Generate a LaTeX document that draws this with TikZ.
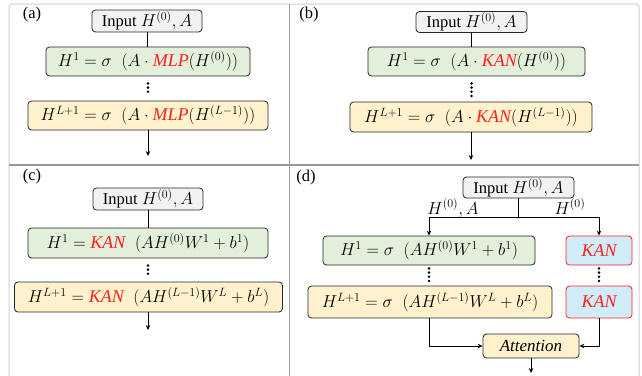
\documentclass[tikz,border=0pt]{standalone}
\usepackage{fontspec}
\setmainfont{Liberation Serif}
\usetikzlibrary{arrows.meta}
\definecolor{gfill}{HTML}{E2EFDA}
\definecolor{yfill}{HTML}{FFF2CC}
\definecolor{ifill}{HTML}{F2F2F2}
\definecolor{bfill}{HTML}{CFEDF8}
\definecolor{kred}{HTML}{FF2020}
\definecolor{frame}{HTML}{D0D0D0}
\definecolor{divider}{HTML}{999999}
\newcommand{\rk}[1]{\textcolor{kred}{\mathit{#1}}}
\begin{document}
\begin{tikzpicture}[x=1pt,y=-1pt,
  box/.style={draw=black!85,line width=0.8pt,rounded corners=3.5pt,inner sep=0pt,font=\fontsize{18}{21}\selectfont},
  inbox/.style={box,fill=ifill,font=\fontsize{16.5}{19}\selectfont},
  gbox/.style={box,fill=gfill},
  ybox/.style={box,fill=yfill},
  kbox/.style={box,fill=bfill,draw=kred},
  conn/.style={line width=0.8pt,black},
  arr/.style={conn,-{Stealth[length=5pt,width=4.5pt]}},
  dotsty/.style={line width=2.8pt,line cap=round,dash pattern=on 0pt off 4.2pt,shorten <=7pt,shorten >=5pt},
  dotshort/.style={dotsty,shorten <=3pt,shorten >=3pt},
  plab/.style={font=\fontsize{16.5}{19}\selectfont,inner sep=0pt},
  elab/.style={font=\fontsize{17}{20}\selectfont,inner sep=0pt,anchor=base}
]
\useasboundingbox (0,0) rectangle (642,375);
% frame
\draw[frame,line width=1pt,rounded corners=3pt] (9,380) -- (9,4) -- (639,4) -- (639,380);
\draw[divider,line width=1.2pt] (9,165) -- (639,165);
\draw[divider,line width=1.2pt] (289.5,4) -- (289.5,380);

% panel (a)
\node[plab] (la) at (32,15) {(a)};
\node[inbox,minimum width=110,minimum height=22] (inA) at (147,21) {Input $H^{(0)},A$};
\node[gbox,minimum width=204,minimum height=29] (gA) at (148,61.5) {$H^{1}=\sigma\;\;(A\cdot\rk{MLP}(H^{(0)}))$};
\node[ybox,minimum width=240,minimum height=29] (yA) at (148,115.5) {$H^{L+1}=\sigma\;\;(A\cdot\rk{MLP}(H^{(L-1)}))$};
\coordinate (oA) at (148,156);
\draw[conn] (inA.south) -- (inA.south |- gA.north);
\draw[dotsty] (gA.south) -- (yA.north);
\draw[arr] (yA.south) -- (oA);

% panel (b)
\node[plab] (lb) at (309,15) {(b)};
\node[inbox,minimum width=111,minimum height=21] (inB) at (471.5,22) {Input $H^{(0)},A$};
\node[gbox,minimum width=217,minimum height=29] (gB) at (476.5,61.5) {$H^{1}=\sigma\;\;(A\cdot\rk{KAN}(H^{(0)}))$};
\node[ybox,minimum width=242,minimum height=30] (yB) at (471,117) {$H^{L+1}=\sigma\;\;(A\cdot\rk{KAN}(H^{(L-1)}))$};
\coordinate (oB) at (471,160);
\draw[conn] (inB.south) -- (inB.south |- gB.north);
\draw[dotsty] (inB.south |- gB.south) -- (inB.south |- yB.north);
\draw[arr] (yB.south) -- (oB);

% panel (c)
\node[plab] (lc) at (32,177) {(c)};
\node[inbox,minimum width=110,minimum height=22] (inC) at (148,199) {Input $H^{(0)},A$};
\node[gbox,minimum width=240,minimum height=30] (gC) at (148,243) {$H^{1}=\rk{KAN}\;\;(AH^{(0)}W^{1}+b^{1})$};
\node[ybox,minimum width=268,minimum height=30] (yC) at (148.5,297) {$H^{L+1}=\rk{KAN}\;\;(AH^{(L-1)}W^{L}+b^{L})$};
\coordinate (oC) at (148,330);
\draw[conn] (inC.south) -- (gC.north);
\draw[dotsty] (gC.south) -- (gC.south |- yC.north);
\draw[arr] (gC.south |- yC.south) -- (oC);

% panel (d)
\node[plab] (ld) at (306,178) {(d)};
\node[inbox,minimum width=111,minimum height=21] (inD) at (518.5,187.5) {Input $H^{(0)},A$};
\node[gbox,minimum width=212,minimum height=29] (gD) at (429,250.5) {$H^{1}=\sigma\;\;(AH^{(0)}W^{1}+b^{1})$};
\node[ybox,minimum width=244,minimum height=32] (yD) at (430,302) {$H^{L+1}=\sigma\;\;(AH^{(L-1)}W^{L}+b^{L})$};
\node[kbox,minimum width=66,minimum height=29] (k1) at (599,250.5) {$\rk{KAN}$};
\node[kbox,minimum width=66,minimum height=32] (k2) at (599,302) {$\rk{KAN}$};
\node[ybox,minimum width=96,minimum height=24,font=\fontsize{17}{20}\selectfont] (att) at (531,346) {\textit{Attention}};
\coordinate (sp) at (518.5,217);
\coordinate (oD) at (531,373);
\draw[conn] (inD.south) -- (sp);
\draw[arr] (sp) -| (gD.north);
\draw[arr] (sp) -| (k1.north);
\node[elab] (e1) at (453,214) {$H^{(0)},A$};
\node[elab] (e2) at (570,214) {$H^{(0)}$};
\draw[dotshort] (gD.south) -- (gD.south |- yD.north);
\draw[dotshort] (k1.south) -- (k2.north);
\draw[arr] (gD.south |- yD.south) |- (att.west);
\draw[arr] (k2.south) |- (att.east);
\draw[arr] (att.south) -- (oD);
\end{tikzpicture}
\end{document}
